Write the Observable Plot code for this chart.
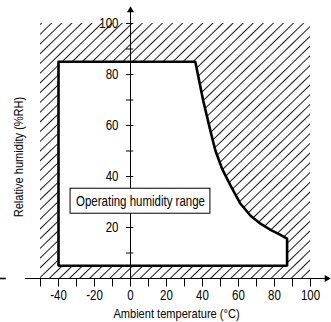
<!DOCTYPE html>
<html>
<head>
<meta charset="utf-8">
<script src="https://cdn.jsdelivr.net/npm/d3@7"></script>
<script src="https://cdn.jsdelivr.net/npm/@observablehq/plot@0.6"></script>
<style>
  html, body { margin: 0; padding: 0; background: #fff; }
  svg { display: block; }
</style>
</head>
<body>
<div id="chart"></div>
<script>
// ---- data ----
const xTickLabels = [-40, -20, 0, 20, 40, 60, 80, 100];
const xTickMarks = [-50, -40, -30, -20, -10, 0, 10, 20, 30, 40, 50, 60, 70, 80, 90, 100];
const yTickLabels = [20, 40, 60, 80, 100];
const yTickMarks = [10, 20, 30, 40, 50, 60, 70, 80, 90, 100];

// operating humidity range: upper boundary (temperature °C, %RH)
const boundaryTemp = [-40, 36, 40.4, 44.4, 47.2, 50.9, 55.6, 61.1, 66.7, 72.2, 77.8, 83.3, 87];
const boundaryRH   = [ 85, 85, 69.7, 57.9, 50.1, 43.0, 36.4, 29.3, 24.6, 21.5, 19.1, 17.1, 15.6];
const minRH = 5;
const maxTemp = 87;

// hatched (non-operating) zone limits
const hatchTemp = [-50, 100];
const hatchRH = [0, 100];

const regionLabel = "Operating humidity range";
const labelBox = {x1: -33.3, x2: 44.4, y1: 25.4, y2: 35.2};
const xTitle = "Ambient temperature (°C)";
const yTitle = "Relative humidity (%RH)";

// ---- derived tables ----
const upperEdge = boundaryTemp.map((t, i) => ({t, rh: boundaryRH[i]}));
const outline = [...upperEdge, {t: maxTemp, rh: minRH}, {t: boundaryTemp[0], rh: minRH}, upperEdge[0]];

const font = "'Liberation Sans', Arial, sans-serif";

const plot = Plot.plot({
  width: 331,
  height: 322,
  marginLeft: 58,
  marginRight: 21,
  marginTop: 23,
  marginBottom: 44,
  style: {fontFamily: font, background: "white", overflow: "visible"},
  x: {domain: [-40, 100], axis: null},
  y: {domain: [0, 100], axis: null},
  marks: [
    Plot.rect([{x1: hatchTemp[0], x2: hatchTemp[1], y1: hatchRH[0], y2: hatchRH[1]}],
      {x1: "x1", x2: "x2", y1: "y1", y2: "y2", fill: "url(#hatch)", clip: false}),
    Plot.areaY(upperEdge, {x: "t", y1: minRH, y2: "rh", fill: "white", clip: false}),
    Plot.line(outline, {x: "t", y: "rh", stroke: "black", strokeWidth: 2.6, strokeLinejoin: "miter", clip: false}),
    Plot.ruleY([0], {x1: -58.3, x2: 108.5, stroke: "black", strokeWidth: 1}),
    Plot.dot([0], {x: 109, y: d => d, symbol: "triangle", r: 2.6, rotate: 90, fill: "black", stroke: null}),
    Plot.ruleY([0], {x1: -72.2, x2: -69, stroke: "black", strokeWidth: 1.6}),
    Plot.ruleX([0], {y1: 0, y2: 104.5, stroke: "black", strokeWidth: 1}),
    Plot.dot([0], {x: d => d, y: 105.2, symbol: "triangle", r: 2.6, fill: "black", stroke: null}),
    Plot.ruleX(xTickMarks, {x: d => d, y1: 0, y2: -3.3, stroke: "black", strokeWidth: 1}),
    Plot.ruleY(yTickMarks, {y: d => d, x1: -2.2, x2: 1.8, stroke: "black", strokeWidth: 1}),
    Plot.text(xTickLabels, {x: d => d, y: 0, dy: 17, text: d => String(d), fontSize: 14, fill: "black"}),
    Plot.text(yTickLabels, {x: 0, y: d => d, dx: -12, text: d => String(d), textAnchor: "end", fontSize: 14, fill: "black"}),
    Plot.rect([labelBox], {x1: "x1", x2: "x2", y1: "y1", y2: "y2", fill: "white", stroke: "black", strokeWidth: 1}),
    Plot.text([regionLabel], {x: (labelBox.x1 + labelBox.x2) / 2, y: (labelBox.y1 + labelBox.y2) / 2, text: d => d, fontSize: 14, fill: "black"}),
    Plot.text([xTitle], {frameAnchor: "bottom", dx: -8, dy: 35, textAnchor: "middle", lineAnchor: "middle", text: d => d, fontSize: 13.5, fill: "black"}),
    Plot.text([yTitle], {frameAnchor: "left", dx: -40, dy: 6, rotate: -90, textAnchor: "middle", lineAnchor: "middle", text: d => d, fontSize: 13.5, fill: "black"})
  ]
});

const svg = d3.select(plot);
const defs = svg.insert("defs", ":first-child");
const p = defs.append("pattern")
  .attr("id", "hatch")
  .attr("patternUnits", "userSpaceOnUse")
  .attr("width", 7)
  .attr("height", 10)
  .attr("patternTransform", "rotate(46)");
p.append("line")
  .attr("x1", 3.5).attr("y1", -1).attr("x2", 3.5).attr("y2", 11)
  .attr("stroke", "black").attr("stroke-width", 0.9);

document.getElementById("chart").appendChild(plot);

// condense the lettering (narrow sans look of the reference)
svg.selectAll("text").each(function () {
  const w = this.getComputedTextLength();
  if (w > 0) {
    this.setAttribute("textLength", (w * 0.82).toFixed(1));
    this.setAttribute("lengthAdjust", "spacingAndGlyphs");
  }
});
</script>
</body>
</html>
